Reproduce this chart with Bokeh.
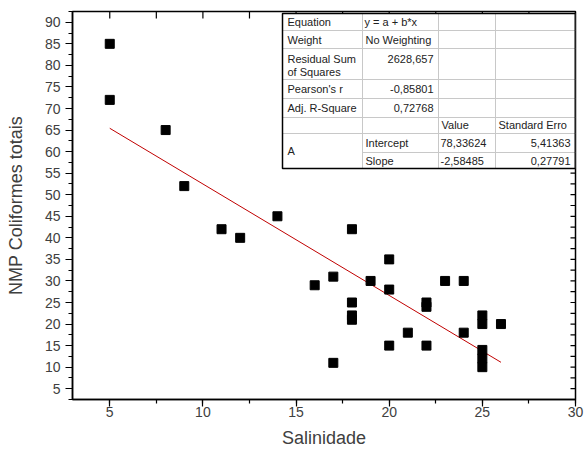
import math
from bokeh.plotting import figure
from bokeh.models import Range1d, SingleIntervalTicker, ColumnDataSource
from bokeh.core.properties import value
from bokeh.embed import file_html
from bokeh.resources import INLINE

# ---- data ----
salinidade = [5, 5, 8, 9, 11, 12, 14, 16, 17, 17, 18, 18, 18, 18, 19, 20, 20, 20,
              21, 22, 22, 22, 23, 24, 24, 25, 25, 25, 25, 25, 26]
nmp = [85, 72, 65, 52, 42, 40, 45, 29, 31, 11, 42, 25, 22, 21, 30, 35, 28, 15,
       18, 25, 24, 15, 30, 30, 18, 22, 20, 14, 12, 10, 20]
intercept = 78.33624
slope = -2.58485

x_ticks = [5, 10, 15, 20, 25, 30]
y_ticks = [5, 10, 15, 20, 25, 30, 35, 40, 45, 50, 55, 60, 65, 70, 75, 80, 85, 90]

# fit report table (text as shown)
tbl_equation = "y = a + b*x"
tbl_weight = "No Weighting"
tbl_rss = "2628,657"
tbl_pearson = "-0,85801"
tbl_adjr2 = "0,72768"
tbl_intercept = ["78,33624", "5,41363"]
tbl_slope = ["-2,58485", "0,27791"]

# ---- layout ----
X0, X1 = 3, 30
Y0, Y1 = 2.5, 92.5
W, H = 585, 460
BL, BR, BT, BB = 72, 10, 11, 61
FW = W - BL - BR
FH = H - BT - BB
FONT = "Liberation Sans"

p = figure(width=W, height=H, x_range=Range1d(X0, X1), y_range=Range1d(Y0, Y1),
           output_backend="svg", toolbar_location=None,
           min_border_left=BL, min_border_right=BR, min_border_top=BT, min_border_bottom=BB)
p.grid.visible = False
p.outline_line_color = "black"
p.outline_line_width = 1.5
p.background_fill_color = "white"
p.border_fill_color = "white"

for ax, label in ((p.xaxis[0], "Salinidade"), (p.yaxis[0], "NMP Coliformes totais")):
    ax.axis_label = label
    ax.axis_label_text_font = FONT
    ax.axis_label_text_font_size = "18px"
    ax.axis_label_text_font_style = "normal"
    ax.axis_label_text_color = "#404040"
    ax.major_label_text_font = FONT
    ax.major_label_text_font_size = "14px"
    ax.major_label_text_color = "#404040"
    ax.axis_line_color = "black"
    ax.axis_line_width = 1.5
    ax.major_tick_line_width = 1.2
    ax.minor_tick_line_width = 1.2
    ax.major_tick_out = 7
    ax.major_tick_in = 0
    ax.minor_tick_out = 4
    ax.minor_tick_in = 0

p.xaxis[0].ticker = SingleIntervalTicker(interval=5, num_minor_ticks=2)
p.yaxis[0].ticker = SingleIntervalTicker(interval=5, num_minor_ticks=2)
p.xaxis[0].major_label_standoff = 0
p.xaxis[0].axis_label_standoff = 8
p.yaxis[0].major_label_standoff = 5
p.yaxis[0].axis_label_standoff = 16

# mirrored inward ticks on top and right frame edges
top_ticks = sorted(set(x_ticks + [t - 2.5 for t in x_ticks if t - 2.5 > X0]))
right_ticks = sorted(set(y_ticks + [t - 2.5 for t in y_ticks if t - 2.5 > Y0] + [y_ticks[-1] + 2.5]))
right_ticks = [t for t in right_ticks if Y0 < t < Y1]
p.ray(x=top_ticks, y=[Y1] * len(top_ticks), length=7, length_units="screen",
      angle=-math.pi / 2, line_color="black", line_width=1.2)
p.ray(x=[X1] * len(right_ticks), y=right_ticks, length=5, length_units="screen",
      angle=math.pi, line_color="black", line_width=1.2)

# regression line
xl = [min(salinidade), max(salinidade)]
yl = [intercept + slope * v for v in xl]
p.line(xl, yl, line_color="#c00000", line_width=1)

# scatter
p.scatter(salinidade, nmp, marker="square", size=9, fill_color="black", line_color="black")

# ---- table (positions in page pixels, converted to data) ----
def dx(px):
    return X0 + (px - BL) / FW * (X1 - X0)

def dy(py):
    return Y1 - (py - BT) / FH * (Y1 - Y0)

col_px = [282, 362, 438, 495, 575]
row_px = [13, 30, 48, 79, 98, 117, 133, 152, 168]

p.quad(left=dx(col_px[0]), right=dx(col_px[-1]), top=dy(row_px[0]), bottom=dy(row_px[-1]),
       fill_color="white", line_color=None)

# grid lines
gx0, gx1, gy0, gy1 = [], [], [], []
for c in col_px[1:-1]:
    gx0.append(dx(c)); gx1.append(dx(c)); gy0.append(dy(row_px[0])); gy1.append(dy(row_px[-1]))
for i, r in enumerate(row_px[1:-1], start=1):
    start = col_px[1] if i == 7 else col_px[0]
    gx0.append(dx(start)); gx1.append(dx(col_px[-1])); gy0.append(dy(r)); gy1.append(dy(r))
p.segment(gx0, gy0, gx1, gy1, line_color="#c8c8c8", line_width=1)

# outer border
bx = [dx(col_px[-1]), dx(col_px[0]), dx(col_px[0]), dx(col_px[-1])]
by = [dy(row_px[0]), dy(row_px[0]), dy(row_px[-1]), dy(row_px[-1])]
p.line(bx, by, line_color="black", line_width=1.5)
p.line([dx(col_px[-1]), dx(col_px[-1])], [dy(row_px[0]), dy(row_px[-1])], line_color="black", line_width=2)

left_items = [
    ("Equation", 287, 21.5), (tbl_equation, 364, 21.5),
    ("Weight", 287, 39), (tbl_weight, 365, 39),
    ("Residual Sum", 287, 58), ("of Squares", 287, 71.5),
    ("Pearson's r", 287, 88.5),
    ("Adj. R-Square", 287, 107),
    ("Value", 441, 124), ("Standard Erro", 498, 124),
    ("A", 287, 150.5),
    ("Intercept", 365, 142), (tbl_intercept[0], 440, 142),
    ("Slope", 365, 160), (tbl_slope[0], 440, 160),
]
right_items = [
    (tbl_rss, 433, 58), (tbl_pearson, 433, 88.5), (tbl_adjr2, 433, 107),
    (tbl_intercept[1], 570, 142), (tbl_slope[1], 570, 160),
]
for items, align in ((left_items, "left"), (right_items, "right")):
    src = ColumnDataSource(dict(x=[dx(a[1]) for a in items], y=[dy(a[2]) for a in items],
                                t=[a[0] for a in items]))
    p.text(x="x", y="y", text="t", source=src, text_font=value(FONT), text_font_size="11px",
           text_color="#222222", text_align=align, text_baseline="middle")

open("out.html", "w").write(file_html(p, INLINE))
